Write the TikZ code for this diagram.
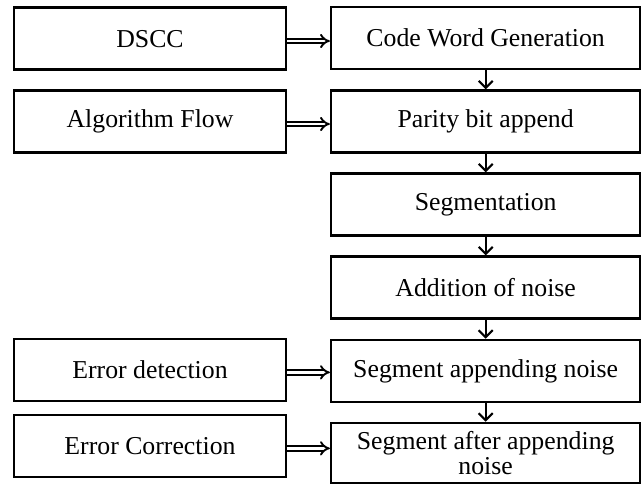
\documentclass[tikz,border=0pt]{standalone}
\usepackage{fontspec}
\setmainfont{Liberation Serif}
\usetikzlibrary{arrows.meta}

\begin{document}
\begin{tikzpicture}[
    box/.style={draw, line width=2.2pt, minimum height=1.86cm, align=center,
      font=\fontsize{22}{21}\selectfont},
    leftbox/.style={box, minimum width=8.16cm},
    rightbox/.style={box, minimum width=9.27cm},
    feed/.style={double, double distance=2.4pt, line width=1.6pt, -{Implies[scale=1.6]}},
    flow/.style={line width=1.8pt, -{Straight Barb[length=6pt,width=12pt]}}
  ]
    \useasboundingbox (0,0) rectangle (19.29,-14.52);

    % main chain
    \node[rightbox] (codegen) at (14.57,-1.14) {Code Word Generation};
    \node[rightbox] (parity) at (14.57,-3.65) {Parity bit append};
    \node[rightbox] (segm) at (14.57,-6.14) {Segmentation};
    \node[rightbox] (noise) at (14.57,-8.63) {Addition of noise};
    \node[rightbox] (segnoise) at (14.57,-11.13) {Segment appending noise};
    \node[rightbox, minimum height=1.8cm] (segafter) at (14.57,-13.59)
      {Segment after appending\\noise};

    % side inputs
    \node[leftbox] (dscc) at (4.5,-1.16) {DSCC};
    \node[leftbox] (algo) at (4.5,-3.65) {Algorithm Flow};
    \node[leftbox] (detect) at (4.5,-11.1) {Error detection};
    \node[leftbox] (correct) at (4.5,-13.38) {Error Correction};

    \foreach \a/\b in {codegen/parity, parity/segm, segm/noise,
                       noise/segnoise, segnoise/segafter}
      {
        \draw[flow] (\a) -- (\b);
      }

    \foreach \a/\b in {dscc/codegen, algo/parity, detect/segnoise,
                       correct/segafter}
      {
        \draw[feed] ([yshift=-2pt]\a.east) -- ([yshift=-2pt]\a.east -| \b.west);
      }
  \end{tikzpicture}
\end{document}
